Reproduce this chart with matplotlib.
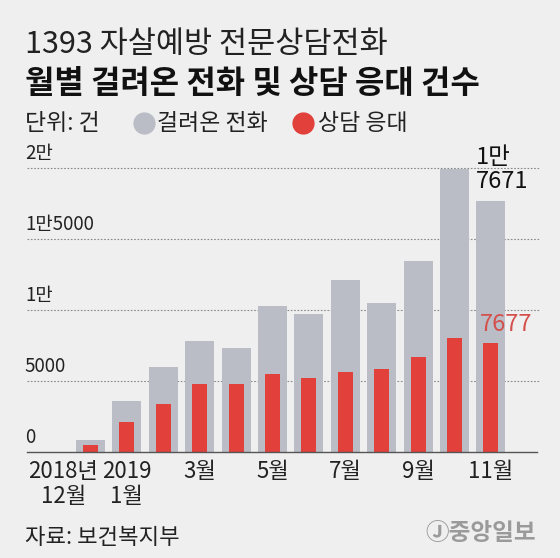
import numpy as np
import matplotlib as mpl
mpl.use('Agg')
import matplotlib.pyplot as plt
from matplotlib.lines import Line2D

plt.rcParams['font.family'] = ['Noto Sans CJK KR', 'DejaVu Sans']

# monthly data, Dec 2018 .. Nov 2019
months = ['2018년\n12월', '2019\n1월', '', '3월', '', '5월', '', '7월', '', '9월', '', '11월']
calls = [830, 3580, 5960, 7830, 7340, 10300, 9720, 12140, 10490, 13460, 19930, 17671]
answered = [450, 2100, 3370, 4760, 4780, 5480, 5220, 5650, 5840, 6700, 8020, 7677]
ytick_vals = [0, 5000, 10000, 15000, 20000]
ytick_labels = ['0', '5000', '1만', '1만5000', '2만']

bg = '#efefef'
gray = '#babdc5'
red = '#e2403a'
W, H = 560, 558

fig = plt.figure(figsize=(W/100, H/100), dpi=100, facecolor=bg)
ax = fig.add_axes([27/W, 1-451.7/H, 513/W, (451.7-145)/H])
ax.set_facecolor(bg)

pos = np.arange(len(calls))
ax.set_xlim(-1.745, 12.35)
ax.set_ylim(0, (451.7-145)/283.4*20000)

for v in ytick_vals[1:]:
    ax.axhline(v, color='#8a8a8a', lw=0.8, ls=(0, (1.5, 1.5)), zorder=1)
ax.bar(pos, calls, width=0.8, color=gray, zorder=2)
ax.bar(pos, answered, width=0.41, color=red, zorder=3)
ax.plot([-1.745, 12.28], [0, 0], color='#555555', lw=1.0, zorder=4, clip_on=False)

for s in ax.spines.values():
    s.set_visible(False)
ax.set_xticks([])
ax.set_yticks([])

for v, lab in zip(ytick_vals, ytick_labels):
    ax.annotate(lab, xy=(0, v), xycoords=('axes fraction', 'data'),
                xytext=(-1.5, 3), textcoords='offset points',
                ha='left', va='bottom', fontsize=13.5, color='#222222')

for i, lab in enumerate(months):
    if not lab:
        continue
    x = i - 0.75 if i == 0 else i
    ax.annotate(lab, xy=(x, 0), xycoords='data', xytext=(0, -6),
                textcoords='offset points', ha='center', va='top',
                fontsize=16, color='#222222', linespacing=1.1)

# value labels on the last month
last = len(calls) - 1
ax.annotate('1만\n%d' % (calls[last] % 10000), xy=(last - 0.4, calls[last]),
            xytext=(0, 6), textcoords='offset points', ha='left', va='bottom',
            fontsize=17, color='#111111', linespacing=1.05)
ax.annotate('%d' % answered[last], xy=(last - 0.3, answered[last]),
            xytext=(0, 5), textcoords='offset points', ha='left', va='bottom',
            fontsize=17, color='#d4504c')

# titles and legend
fig.text(25/W, 1-44.5/H, '1393 자살예방 전문상담전화', fontsize=22, weight='light',
         color='#222222', ha='left', va='center')
fig.text(25/W, 1-84/H, '월별 걸려온 전화 및 상담 응대 건수', fontsize=23, weight='bold',
         color='#111111', ha='left', va='center')
fig.text(25/W, 1-123/H, '단위: 건', fontsize=16.5, color='#222222', ha='left', va='center')
fig.add_artist(Line2D([143.5/W], [1-123/H], marker='o', ms=15, color=gray, ls=''))
fig.text(157/W, 1-123/H, '걸려온 전화', fontsize=16.5, color='#222222', ha='left', va='center')
fig.add_artist(Line2D([303/W], [1-123/H], marker='o', ms=15, color=red, ls=''))
fig.text(318/W, 1-123/H, '상담 응대', fontsize=16.5, color='#222222', ha='left', va='center')

fig.text(25/W, 1-538/H, '자료: 보건복지부', fontsize=16, color='#222222', ha='left', va='center')
fig.text(536/W, 1-533/H, 'Ⓙ중앙일보', fontsize=17, weight='bold', color='#9a9a9a',
         ha='right', va='center')

plt.savefig('out.png', dpi=100, facecolor=bg)
